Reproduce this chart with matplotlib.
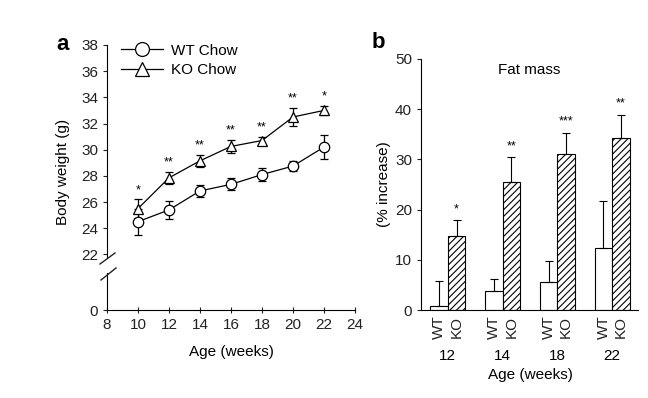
import numpy as np
import matplotlib.pyplot as plt
from matplotlib.lines import Line2D

plt.rcParams['font.family'] = ['Liberation Sans', 'DejaVu Sans']
plt.rcParams['hatch.linewidth'] = 0.8

# panel a: body weight
weeks = [10, 12, 14, 16, 18, 20, 22]
wt_weight = [24.5, 25.4, 26.85, 27.35, 28.1, 28.75, 30.2]
wt_err = [1.0, 0.7, 0.45, 0.45, 0.5, 0.35, 0.9]
ko_weight = [25.5, 27.85, 29.15, 30.25, 30.7, 32.5, 33.0]
ko_err = [0.7, 0.45, 0.45, 0.5, 0.3, 0.7, 0.35]
weight_stars = ['*', '**', '**', '**', '**', '**', '*']

# panel b: fat mass
ages = ['12', '14', '18', '22']
wt_fat = [0.7, 3.8, 5.5, 12.3]
wt_fat_err = [5.0, 2.3, 4.3, 9.4]
ko_fat = [14.8, 25.4, 31.1, 34.2]
ko_fat_err = [3.1, 5.0, 4.2, 4.7]
fat_stars = ['*', '**', '***', '**']

W, H = 648, 398
fig = plt.figure(figsize=(6.48, 3.98), dpi=100)


def rect(x0, y0, x1, y1):
    # pixel box -> figure fraction
    return [x0 / W, 1 - y1 / H, (x1 - x0) / W, (y1 - y0) / H]


def px(x, y):
    return x / W, 1 - y / H


fs = 11
ink = '#222222'
ax_top = fig.add_axes(rect(107, 45, 355, 257))
ax_bot = fig.add_axes(rect(107, 273, 355, 310))

for a in (ax_top, ax_bot):
    for s in ('top', 'right'):
        a.spines[s].set_visible(False)
    a.set_xlim(8, 24)
    a.tick_params(labelsize=fs, width=0.8, length=3, colors=ink)

ax_top.spines['bottom'].set_visible(False)
ax_top.set_xticks([])
ax_top.set_ylim(21.8, 38)
ax_top.set_yticks(range(22, 39, 2))
ax_bot.set_ylim(0, 3)
ax_bot.set_yticks([0])
ax_bot.set_xticks(range(8, 25, 2))
ax_bot.tick_params(axis='x', direction='inout', length=5)
ax_bot.set_xlabel('Age (weeks)', fontsize=fs, labelpad=9)

mk = dict(color='black', lw=0.9, ms=7.5, mfc='white', mec='black', mew=0.9,
          capsize=3, elinewidth=0.9, capthick=0.9)
ax_top.errorbar(weeks, wt_weight, yerr=wt_err, marker='o', **mk)
ax_top.errorbar(weeks, ko_weight, yerr=ko_err, marker='^', **mk)
for x, y, e, s in zip(weeks, ko_weight, ko_err, weight_stars):
    ax_top.text(x, y + e + 0.25, s, ha='center', va='bottom', fontsize=9)

handles = [Line2D([], [], color='black', lw=0.9, marker='o', ms=10, mfc='white', mew=0.9),
           Line2D([], [], color='black', lw=0.9, marker='^', ms=10, mfc='white', mew=0.9)]
ax_top.legend(handles, ['WT Chow', 'KO Chow'], loc='upper left',
              bbox_to_anchor=(0.03, 1.035), frameon=False, fontsize=fs,
              handlelength=2.8, handletextpad=0.5, labelspacing=0.35, borderaxespad=0)
ax_top.set_ylabel('Body weight (g)', fontsize=fs)
ax_top.yaxis.set_label_coords(-0.15, 0.4)

# axis break marks
for (x0, y0), (x1, y1) in [((100, 264), (115, 253)), ((101, 280), (116, 268))]:
    a0, b0 = px(x0, y0)
    a1, b1 = px(x1, y1)
    fig.add_artist(Line2D([a0, a1], [b0, b1], color=ink, lw=1.0))

fig.text(*px(56, 44), 'a', fontsize=16, fontweight='bold', va='center', ha='left')
fig.text(*px(372, 42), 'b', fontsize=16, fontweight='bold', va='center', ha='left')

# panel b
ax2 = fig.add_axes(rect(421, 59, 638, 310))
for s in ('top', 'right'):
    ax2.spines[s].set_visible(False)
x = np.arange(len(ages))
bw = 0.32
ax2.bar(x - bw / 2, wt_fat, bw, color='white', edgecolor='black', lw=0.8)
ax2.bar(x + bw / 2, ko_fat, bw, color='white', edgecolor='black', lw=0.8, hatch='/////')
ax2.errorbar(x - bw / 2, wt_fat, yerr=[np.zeros(4), wt_fat_err], fmt='none',
             ecolor='black', elinewidth=0.8, capsize=3, capthick=0.8)
ax2.errorbar(x + bw / 2, ko_fat, yerr=[np.zeros(4), ko_fat_err], fmt='none',
             ecolor='black', elinewidth=0.8, capsize=3, capthick=0.8)
for xi, y, e, s in zip(x + bw / 2, ko_fat, ko_fat_err, fat_stars):
    ax2.text(xi, y + e + 1.0, s, ha='center', va='bottom', fontsize=9)

ax2.set_xlim(-0.49, 3.47)
ax2.set_ylim(0, 50)
ax2.set_yticks(range(0, 51, 10))
ax2.tick_params(labelsize=fs, width=0.8, length=3, colors=ink)
ax2.set_xticks(np.concatenate([x - bw / 2, x + bw / 2]))
ax2.set_xticklabels(['WT'] * 4 + ['KO'] * 4, rotation=90, fontsize=fs)
ax2.tick_params(axis='x', length=0, pad=4)
for xi, a in zip(x, ages):
    ax2.text(xi, -0.155, a, transform=ax2.get_xaxis_transform(), ha='center',
             va='top', fontsize=fs)
ax2.text(np.mean(x), -0.23, 'Age (weeks)', transform=ax2.get_xaxis_transform(),
         ha='center', va='top', fontsize=fs)
ax2.text(0.5, 0.985, 'Fat mass', transform=ax2.transAxes, ha='center', va='top',
         fontsize=fs)
ax2.set_ylabel('(% increase)', fontsize=fs, labelpad=3)

fig.savefig('out.png', dpi=100)
